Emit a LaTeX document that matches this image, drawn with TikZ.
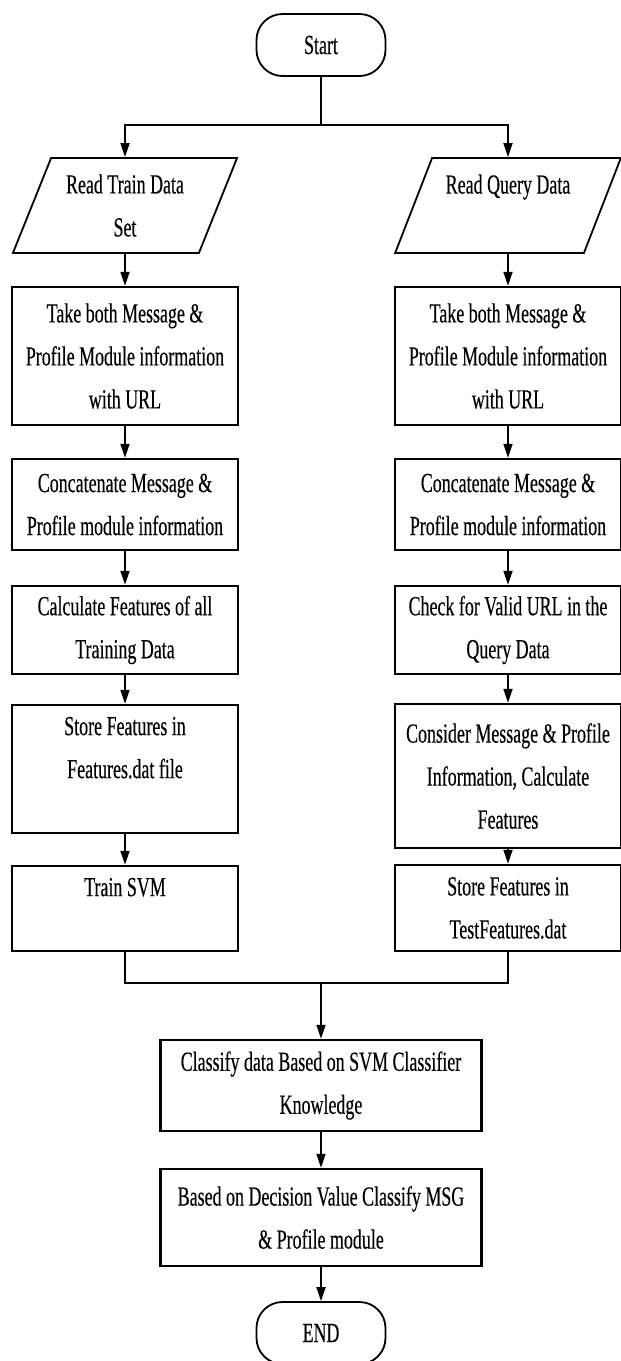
\documentclass[tikz,border=0pt]{standalone}
\usepackage{fontspec}
\setmainfont{Liberation Serif}[FakeStretch=0.65,FakeBold=0.3]
\usetikzlibrary{arrows.meta,shapes.geometric}
\begin{document}
\begin{tikzpicture}[x=0.5pt,y=-0.5pt,>={Triangle[length=7pt,width=4.5pt]},
  every node/.style={font=\fontsize{13.8pt}{21.5pt}\selectfont,align=center,inner sep=0pt},
  terminal/.style={draw,line width=0.9pt,rounded corners=13pt,minimum width=64.5pt,minimum height=31pt},
  io/.style={draw,line width=0.9pt,trapezium,trapezium left angle=64,trapezium right angle=116,
    trapezium stretches=true,minimum width=113pt,minimum height=47.5pt},
  process/.style={draw,line width=1.2pt,minimum width=113pt},
  wide/.style={process,minimum width=160.5pt},
  link/.style={line width=0.85pt}]
\useasboundingbox (0,0) rectangle (621,1361);
\node[terminal] (start) at (321,45) {Start};
\node[io] (readtrain) at (125,205.5) {Read Train Data\\Set};
\node[io] (readquery) at (508,205.5) {Read Query Data\\~};
\node[process,minimum height=69pt] (takeL) at (125,356) {Take both Message \&\\Profile Module information\\with URL};
\node[process,minimum height=69pt] (takeR) at (508,356) {Take both Message \&\\Profile Module information\\with URL};
\node[process,minimum height=45.5pt] (concatL) at (125,504.5) {Concatenate Message \&\\Profile module information};
\node[process,minimum height=45.5pt] (concatR) at (508,504.5) {Concatenate Message \&\\Profile module information};
\node[process,minimum height=44pt] (calcL) at (125,630) {Calculate Features of all\\Training Data};
\node[process,minimum height=44pt] (checkR) at (508,630) {Check for Valid URL in the\\Query Data};
\node[process,minimum height=64pt] (storeL) at (125,769) {Store Features in\\Features.dat file\\~};
\node[process,minimum height=72pt] (considerR) at (508,776) {Consider Message \& Profile\\Information, Calculate\\Features};
\node[process,minimum height=42.5pt] (trainsvm) at (125,908.5) {Train SVM\\~};
\node[process,minimum height=43pt] (storeR) at (508,908) {Store Features in\\TestFeatures.dat};
\node[wide,minimum height=45.5pt] (classify) at (321,1085.5) {Classify data Based on SVM Classifier\\Knowledge};
\node[wide,minimum height=48.5pt] (decide) at (321,1217.5) {Based on Decision Value Classify MSG\\\& Profile module};
\node[terminal] (end) at (321,1333) {END};
\coordinate (split) at (321,125);
\coordinate (join) at (321,983);
\draw[link] (start) -- (split);
\draw[link,->] (split) -| (readtrain);
\draw[link,->] (split) -| (readquery);
\draw[link,->] (readtrain) -- (takeL);
\draw[link,->] (takeL) -- (concatL);
\draw[link,->] (concatL) -- (calcL);
\draw[link,->] (calcL) -- (storeL);
\draw[link,->] (storeL) -- (trainsvm);
\draw[link,->] (readquery) -- (takeR);
\draw[link,->] (takeR) -- (concatR);
\draw[link,->] (concatR) -- (checkR);
\draw[link,->] (checkR) -- (considerR);
\draw[link,->] (considerR) -- (storeR);
\draw[link] (trainsvm) |- (join);
\draw[link] (storeR) |- (join);
\draw[link,->] (join) -- (classify);
\draw[link,->] (classify) -- (decide);
\draw[link,->] (decide) -- (end);
\end{tikzpicture}
\end{document}
